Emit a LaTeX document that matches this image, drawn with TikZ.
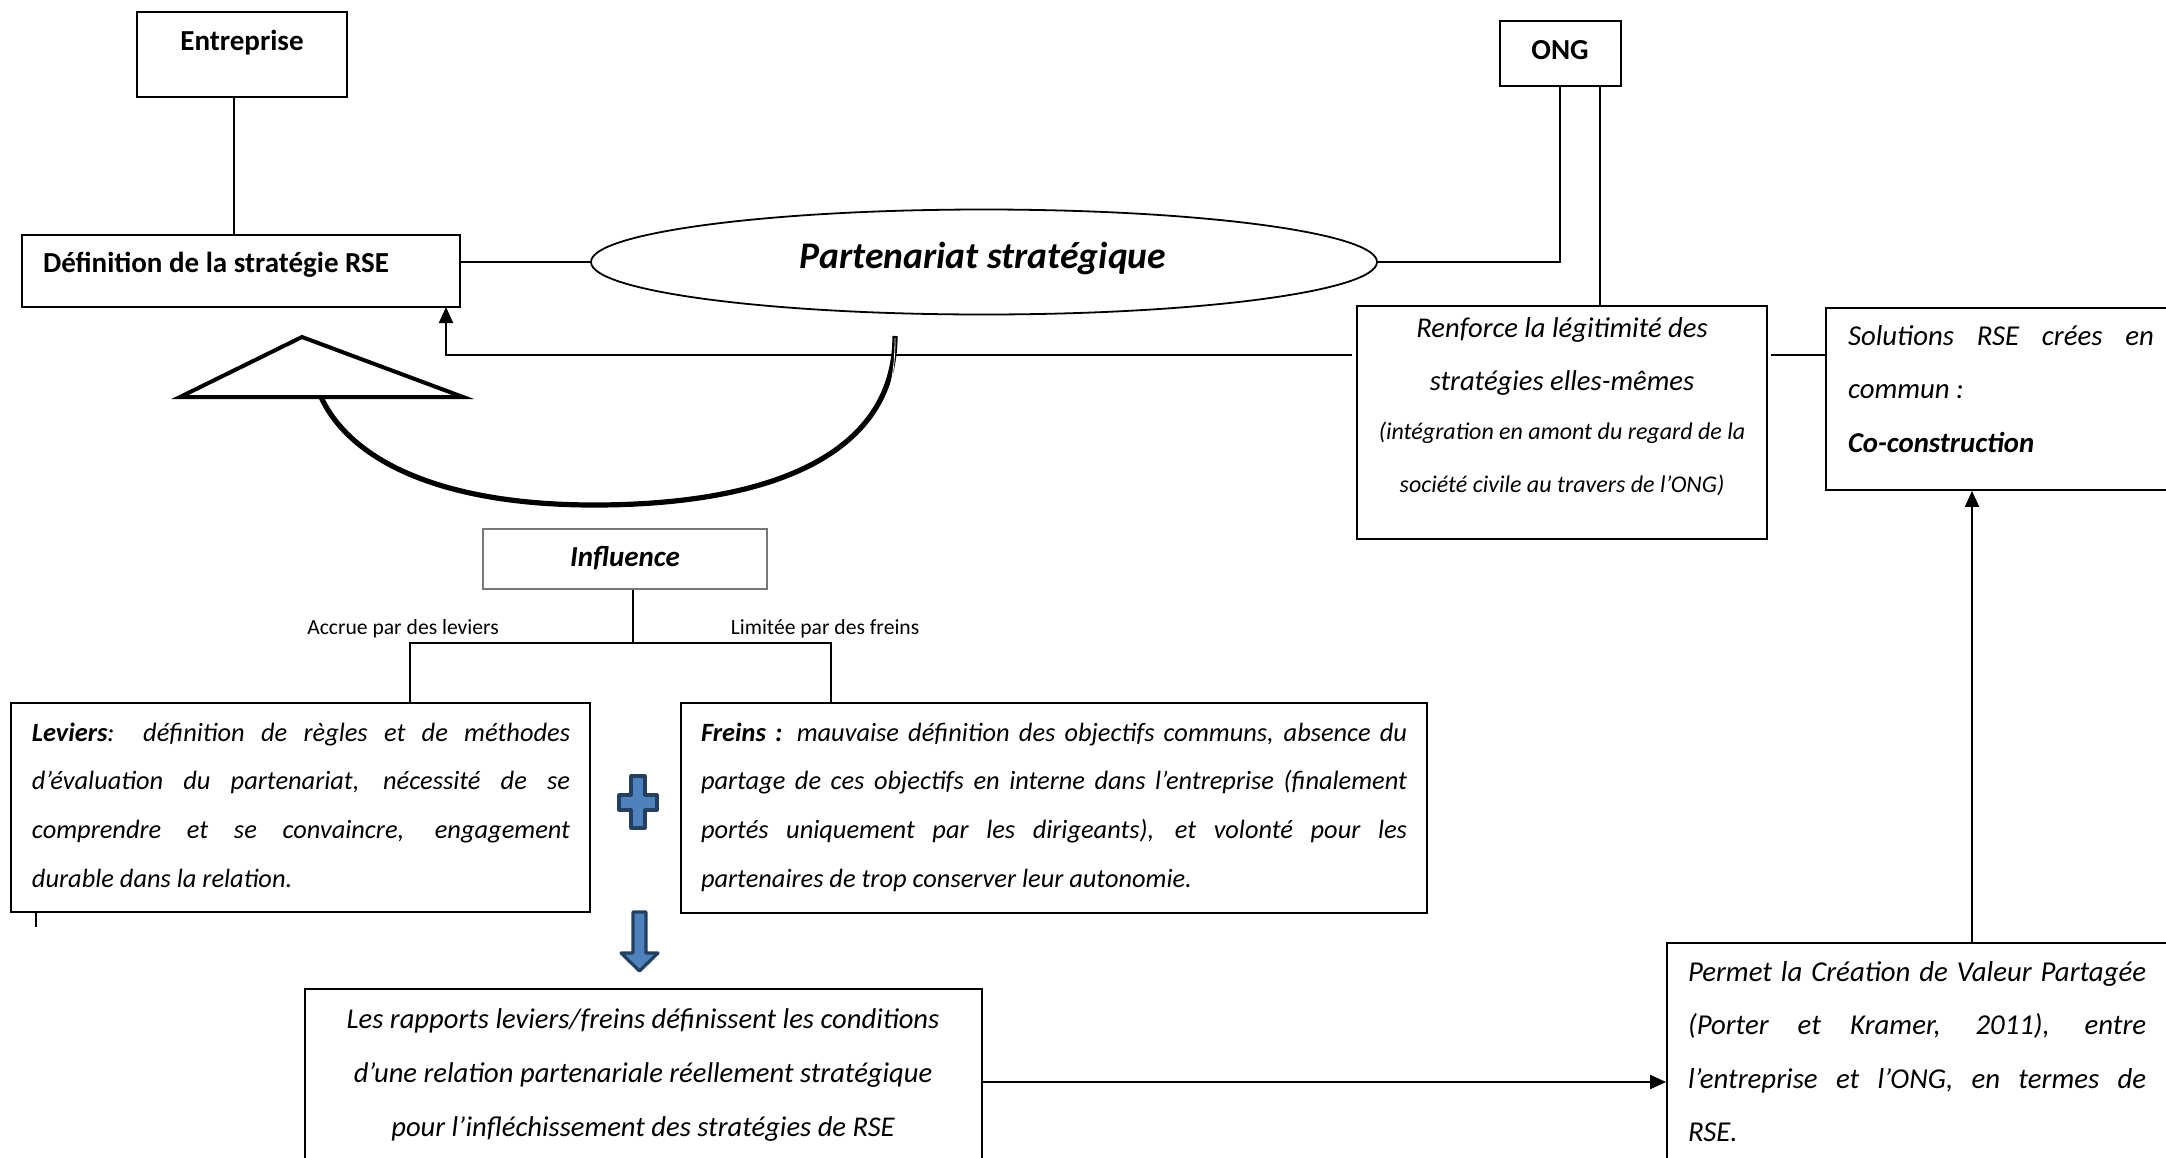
\documentclass[tikz,border=0pt]{standalone}
\usepackage{fontspec}
\setmainfont{Carlito}
\usetikzlibrary{arrows.meta,fit,shapes.geometric}
\definecolor{plusfill}{RGB}{79,129,189}
\definecolor{plusline}{RGB}{36,63,96}
\definecolor{infgray}{RGB}{120,120,120}
\tikzset{
  box/.style={draw, line width=0.9pt, inner sep=0pt},
  txt/.style={inner sep=0pt, outer sep=0pt},
  conn/.style={line width=0.9pt},
  arr/.style={line width=1pt, -{Triangle[length=8pt,width=7pt]}},
  blueshape/.style={draw=plusline, fill=plusfill, line width=1.6pt, line join=round},
  headfont/.style={font=\bfseries\fontsize{14.5}{17}\selectfont},
}
\begin{document}
\begin{tikzpicture}[x=0.5pt, y=-0.5pt]
\clip (0,0) rectangle (2166,1157);
\fill[white] (0,0) rectangle (2166,1157);

% ---- boxes
\node[box, fit={(137,12) (347,97)}] (ent) {};
\node[txt, headfont] (entT) at (242,43) {Entreprise};
\node[box, fit={(22,235) (460,307)}] (def) {};
\node[txt, anchor=west, headfont] (defT) at (43,265) {Définition de la stratégie RSE};
\node[draw, ellipse, line width=0.9pt, minimum width=393pt, minimum height=52.5pt, inner sep=0pt] (ell) at (984,262) {};
\node[txt, font=\bfseries\itshape\fontsize{18.8}{22}\selectfont] (ellT) at (983,258) {Partenariat stratégique};
\node[box, fit={(1500,21) (1621,86)}] (ong) {};
\node[txt, headfont] (ongT) at (1560,50) {ONG};

\node[box, fit={(1357,306) (1767,539)}] (ren) {};
\node[txt, anchor=base, text width=205pt, align=flush center, font=\itshape\fontsize{14.3}{26.5}\selectfont] (renT) at (1562,337)
  {Renforce la légitimité des\\ stratégies elles-mêmes\par\fontsize{12}{22.5}\selectfont\vspace{2pt}(intégration en amont du regard de la\\ société civile au travers de l’ONG)};

\node[box, fit={(1826,308) (2220,490)}] (sol) {};
\node[txt, anchor=base west, text width=153pt, align=justify, font=\itshape\fontsize{14.4}{26.75}\selectfont] (solT) at (1848,345)
  {Solutions RSE crées en\linebreak commun~:\par\textbf{Co-construction}};

\node[draw=infgray, line width=0.6pt, inner sep=0pt, fit={(483,529) (767,589)}] (inf) {};
\node[txt, font=\bfseries\itshape\fontsize{14.5}{17}\selectfont] (infT) at (625,558) {Influence};
\node[txt, font=\fontsize{10.8}{13}\selectfont] (acc) at (403,629) {Accrue par des leviers};
\node[txt, font=\fontsize{10.8}{13}\selectfont] (lim) at (825,629) {Limitée par des freins};

\node[box, fit={(11,703) (590,912)}] (lev) {};
\node[txt, anchor=base west, text width=269pt, align=justify, font=\itshape\fontsize{13.2}{24.4}\selectfont] (levT) at (32,741)
  {\textbf{Leviers}: définition de règles et de méthodes\linebreak d’évaluation du partenariat, nécessité de se\linebreak comprendre et se convaincre, engagement\linebreak durable dans la relation.};

\node[box, fit={(681,703) (1427,913)}] (fre) {};
\node[txt, anchor=base west, text width=353pt, align=justify, font=\itshape\fontsize{13.2}{24.4}\selectfont] (freT) at (701,741)
  {\textbf{Freins :} mauvaise définition des objectifs communs, absence du\linebreak partage de ces objectifs en interne dans l’entreprise (finalement\linebreak portés uniquement par les dirigeants), et volonté pour les\linebreak partenaires de trop conserver leur autonomie.};

\node[box, fit={(305,989) (982,1220)}] (rap) {};
\node[txt, anchor=base, text width=330pt, align=flush center, font=\itshape\fontsize{14.3}{27}\selectfont] (rapT) at (643,1028)
  {Les rapports leviers/freins définissent les conditions\\ d’une relation partenariale réellement stratégique\\ pour l’infléchissement des stratégies de RSE};

\node[box, fit={(1667,943) (2220,1220)}] (per) {};
\node[txt, anchor=base west, text width=229pt, align=justify, font=\itshape\fontsize{14.4}{26.8}\selectfont] (perT) at (1688,981)
  {Permet la Création de Valeur Partagée\linebreak (Porter et Kramer, 2011), entre\linebreak l’entreprise et l’ONG, en termes de\linebreak RSE.};

% ---- coordinates
\coordinate (edx) at (234,0);
\coordinate (ongA) at (1560,86);
\coordinate (ongB) at (1600,86);
\coordinate (renL) at (1352,355);
\coordinate (defB) at (446,307);
\coordinate (rs) at (1771,355);
\coordinate (jn) at (633,643);
\coordinate (levtop) at (410,703);
\coordinate (fretop) at (831,703);
\coordinate (tick) at (36,927);
\coordinate (rp) at (982,1082);
\coordinate (ps) at (1972,0);

% ---- connectors
\draw[conn] (ent.south -| edx) -- (def.north -| edx);
\draw[conn] (def.east |- ell.west) -- (ell.west);
\draw[conn] (ell.east) -| (ongA);
\draw[conn] (ongB) -- (ren.north -| ongB);
\draw[arr] (renL) -| (defB);
\draw[conn] (rs) -- (sol.west |- rs);
\draw[conn] (inf.south -| jn) -- (jn);
\draw[conn] (levtop) |- (jn) -| (fretop);
\draw[conn] (lev.south -| tick) -- (tick);
\draw[arr] (rp) -- (per.west |- rp);
\draw[arr] (per.north -| ps) -- (sol.south -| ps);

% ---- curved arrow with triangle head
\draw[line width=2.6pt]
  (895,336) .. controls (895,460) and (760,505) .. (594,505)
  .. controls (440,505) and (350,460) .. (321,397);
\draw[white, line width=0.4pt] (895,338) .. controls (895,365) and (892,385) .. (884,408);
\draw[line width=2pt, fill=white, line join=miter] (180,397) -- (302,337) -- (463,397) -- cycle;

% ---- blue plus and down arrow
\draw[blueshape] (631,776) -- (645,776) -- (645,795) -- (657,795) -- (657,810) -- (645,810)
  -- (645,828) -- (631,828) -- (631,810) -- (619,810) -- (619,795) -- (631,795) -- cycle;
\draw[blueshape] (633,912) -- (646,912) -- (646,953) -- (658,953) -- (639.5,971)
  -- (621,953) -- (633,953) -- cycle;
\end{tikzpicture}
\end{document}
